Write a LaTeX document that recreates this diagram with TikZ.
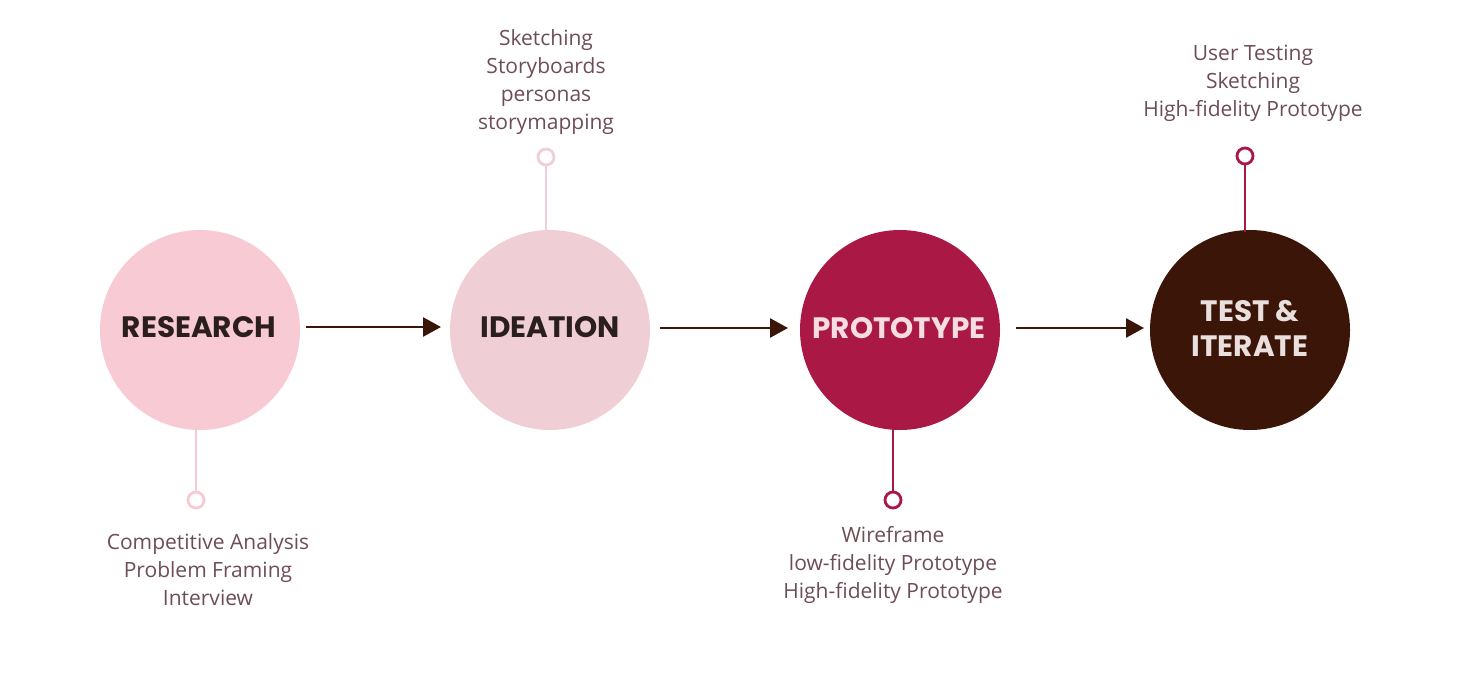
\documentclass[tikz,border=0pt]{standalone}
\usepackage{fontspec}
\setmainfont{Open Sans}
\newfontfamily\headfont{Poppins}[UprightFont=* Bold]
\usetikzlibrary{arrows.meta}
\definecolor{cResearch}{HTML}{F8CAD3}
\definecolor{cIdea}{HTML}{F0CED6}
\definecolor{cProto}{HTML}{AA1846}
\definecolor{cTest}{HTML}{3B1508}
\definecolor{cNote}{HTML}{6E4E56}
\definecolor{cDark}{HTML}{2A1E1E}
\definecolor{cLightA}{HTML}{F6DDE4}
\definecolor{cLightB}{HTML}{E9DFDC}
\tikzset{
  phase/.style={circle, minimum size=200pt, inner sep=0pt},
  headline/.style={align=center, font=\headfont\fontsize{29.5}{35}\selectfont},
  flow/.style={line width=2.6pt, draw=cTest, -{Triangle[length=18pt,width=19pt]}},
  stem/.style={line width=2.8pt},
  knob/.style={circle, minimum size=16pt, inner sep=0pt, line width=2.8pt, fill=white},
  note/.style={align=center, text=cNote, font=\fontsize{21}{28}\selectfont, inner sep=0pt}
}
\begin{document}
\begin{tikzpicture}[x=1pt,y=-1pt]
\useasboundingbox (0,0) rectangle (1463,683);
\fill[white] (0,0) rectangle (1463,683);

% the four phases
\node[phase, fill=cResearch] (research) at (200,330) {};
\node[phase, fill=cIdea] (ideation) at (550,330) {};
\node[phase, fill=cProto] (proto) at (900,330) {};
\node[phase, fill=cTest] (test) at (1250,330) {};
\node[headline, text=cDark] (researchL) at (199,327) {RESEARCH};
\node[headline, text=cDark] (ideationL) at (550,327) {IDEATION};
\node[headline, text=cLightA] (protoL) at (899,328) {PROTOTYPE};
\node[headline, text=cLightB] (testL) at (1250,328) {TEST \&\\ITERATE};

% flow between phases
\coordinate (a1s) at (306,327); \coordinate (a1e) at (441,327);
\coordinate (a2s) at (660,328); \coordinate (a2e) at (788,328);
\coordinate (a3s) at (1016,328); \coordinate (a3e) at (1144,328);
\draw[flow] (a1s) -- (a1e);
\draw[flow] (a2s) -- (a2e);
\draw[flow] (a3s) -- (a3e);

% stems with end knobs
\node[knob, draw=cResearch] (k1) at (196,500) {};
\node[knob, draw=cIdea] (k2) at (546,157) {};
\node[knob, draw=cProto] (k3) at (893,500) {};
\node[knob, draw=cProto] (k4) at (1245,156) {};
\coordinate (s1) at (196,428);
\coordinate (s2) at (546,232);
\coordinate (s3) at (893,428);
\coordinate (s4) at (1245,232);
\draw[stem, cResearch] (s1) -- (k1);
\draw[stem, cIdea] (s2) -- (k2);
\draw[stem, cProto] (s3) -- (k3);
\draw[stem, cProto] (s4) -- (k4);

% notes
\node[note, anchor=north] (n1) at (208,533) {Competitive Analysis\\Problem Framing\\Interview};
\node[note, anchor=north] (n2) at (546,29) {Sketching\\Storyboards\\personas\\storymapping};
\node[note, anchor=north] (n3) at (893,526) {Wireframe\\low-fidelity Prototype\\High-fidelity Prototype};
\node[note, anchor=north] (n4) at (1253,45) {User Testing\\Sketching\\High-fidelity Prototype};
\end{tikzpicture}
\end{document}
